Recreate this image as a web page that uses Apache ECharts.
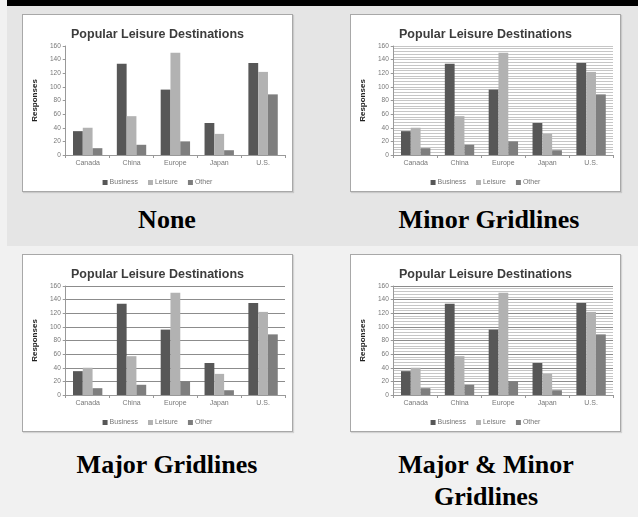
<!DOCTYPE html>
<html>
<head>
<meta charset="utf-8">
<script src="https://cdn.jsdelivr.net/npm/echarts@6/dist/echarts.min.js"></script>
<style>
  html, body { margin: 0; padding: 0; width: 638px; height: 517px; overflow: hidden; background: #f1f1f1; }
  #topband { position: absolute; left: 7px; top: 0; width: 631px; height: 246px; background: #e5e5e5; }
  #blackbar { position: absolute; left: 7px; top: 0; width: 631px; height: 6px; background: #000; }
  .panel { position: absolute; width: 271px; height: 178px; background: #fff; border: 1px solid #a8a8a8;
           box-sizing: border-box; box-shadow: 1px 1px 1px rgba(0,0,0,0.12); }
  .panel > div { width: 269px; height: 176px; }
  .cap { position: absolute; font-family: "Liberation Serif", "Times New Roman", serif; font-weight: bold;
         font-size: 26px; color: #000; text-align: center; line-height: 32px; white-space: nowrap;
         transform: translateX(-50%); }
</style>
</head>
<body>
<div id="topband"></div>
<div id="blackbar"></div>

<div class="panel" style="left:22px;top:14px;"><div id="c1"></div></div>
<div class="panel" style="left:350px;top:14px;"><div id="c2"></div></div>
<div class="panel" style="left:22px;top:254px;"><div id="c3"></div></div>
<div class="panel" style="left:350px;top:254px;"><div id="c4"></div></div>

<div class="cap" style="left:167px;top:204px;">None</div>
<div class="cap" style="left:489px;top:204px;">Minor Gridlines</div>
<div class="cap" style="left:167px;top:449px;">Major Gridlines</div>
<div class="cap" style="left:486px;top:449px;">Major &amp; Minor<br>Gridlines</div>

<script>
// Survey responses by destination
const destinations = ['Canada', 'China', 'Europe', 'Japan', 'U.S.'];
const business = [35, 134, 96, 47, 135];
const leisure = [40, 57, 150, 31, 122];
const other = [10, 15, 20, 7, 89];
const seriesNames = ['Business', 'Leisure', 'Other'];
const seriesColors = ['#575757', '#b2b2b2', '#7e7e7e'];
const yTicks = { min: 0, max: 160, step: 20 };

const MAJOR = '#8c8c8c';
const MINOR = '#c6c6c6';
const SANS = 'Liberation Sans, Arial, sans-serif';

function buildOption(mode) {
  const showMajor = mode === 'major' || mode === 'both';
  const showMinor = mode === 'minor' || mode === 'both';
  const values = [business, leisure, other];
  return {
    animation: false,
    title: {
      text: 'Popular Leisure Destinations',
      left: 'center', top: 8,
      textStyle: { fontFamily: SANS, fontWeight: 'bold', fontSize: 12.5, color: '#3c3c3c' }
    },
    legend: {
      data: seriesNames,
      top: 159, left: 'center',
      icon: 'rect', itemWidth: 5, itemHeight: 5, itemGap: 10,
      textStyle: { fontFamily: SANS, fontSize: 7, color: '#777', padding: [0, 0, 0, -3] }
    },
    grid: { left: 39, right: 7, top: 31, bottom: 36 },
    xAxis: {
      type: 'category',
      data: destinations,
      axisLine: { show: true, lineStyle: { color: '#999', width: 1 } },
      axisTick: { show: true, length: 3, lineStyle: { color: '#999' } },
      axisLabel: { fontFamily: SANS, fontSize: 7, color: '#777', margin: 5 }
    },
    yAxis: {
      type: 'value',
      min: yTicks.min, max: yTicks.max, interval: yTicks.step,
      name: 'Responses',
      nameLocation: 'middle', nameRotate: 90, nameGap: 21,
      nameTextStyle: { fontFamily: SANS, fontWeight: 'bold', fontSize: 8, color: '#222' },
      axisLine: { show: true, lineStyle: { color: '#999', width: 1 } },
      axisTick: { show: true, length: 3, lineStyle: { color: '#999' } },
      axisLabel: { fontFamily: SANS, fontSize: 6.5, color: '#777', margin: 5 },
      splitLine: { show: showMajor || showMinor, lineStyle: { color: showMajor ? MAJOR : MINOR, width: 1 } },
      minorTick: { show: false, splitNumber: 5 },
      minorSplitLine: { show: showMinor, lineStyle: { color: MINOR, width: 1 } }
    },
    series: seriesNames.map((name, i) => ({
      name: name,
      type: 'bar',
      data: values[i],
      barGap: '0%',
      barCategoryGap: '33%',
      itemStyle: { color: seriesColors[i] }
    }))
  };
}

[['c1', 'none'], ['c2', 'minor'], ['c3', 'major'], ['c4', 'both']].forEach(([id, mode]) => {
  const chart = echarts.init(document.getElementById(id), null, { renderer: 'canvas' });
  chart.setOption(buildOption(mode));
});
</script>
</body>
</html>
